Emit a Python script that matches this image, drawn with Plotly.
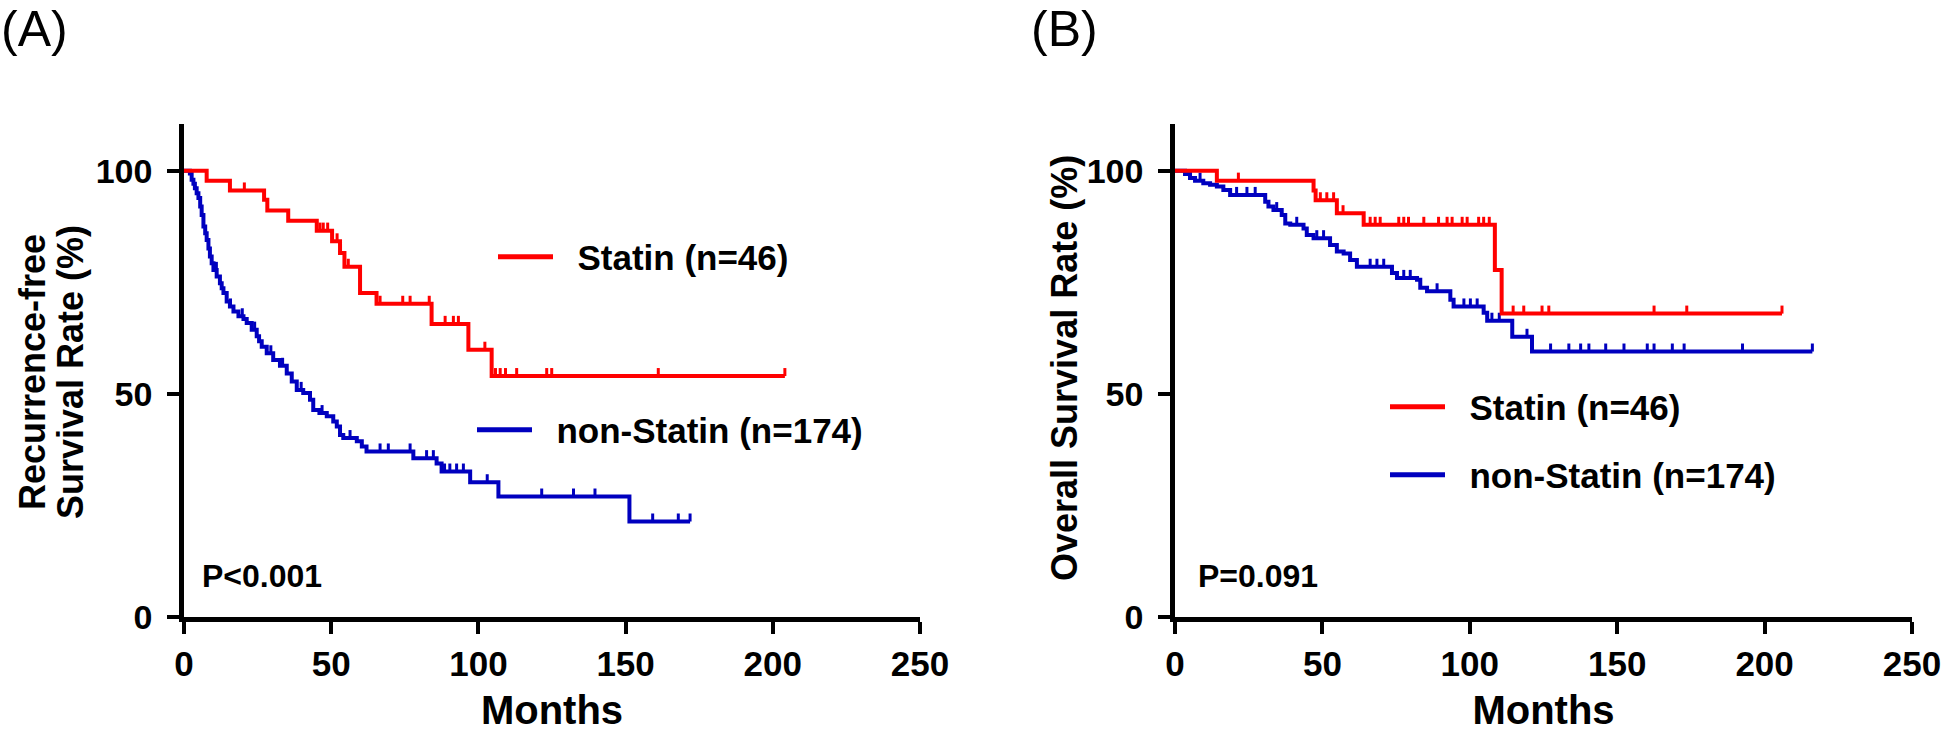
import numpy as np
import plotly.graph_objects as go

# ---------------- data ----------------
# Panel A: recurrence-free survival
rfs_statin_t = [0, 7.7, 15.6, 27.2, 28.3, 35.4, 45.1, 50.3, 53.0, 54.5, 59.8, 65.4, 84.1, 96.6, 104.5]
rfs_statin_s = [100, 97.8, 95.6, 93.5, 91.1, 88.8, 86.6, 84.2, 81.6, 78.5, 72.6, 70.2, 65.7, 59.9, 54.0]
rfs_statin_end = 204.1
rfs_statin_cens = [20.5, 46.2, 47.3, 48.8, 52.0, 55.8, 66.6, 74.3, 76.8, 83.3, 88.7, 91.5, 93.2,
                   102.2, 105.8, 107.4, 109.2, 113.0, 123.2, 124.9, 161.1, 204.1]

rfs_non_t = [0, 2.0, 2.6, 3.2, 3.7, 4.3, 4.9, 5.5, 6.0, 6.6, 7.2, 7.7, 8.3, 8.8, 9.4, 10.0, 11.1,
             12.2, 12.8, 13.4, 14.5, 15.6, 16.8, 18.5, 20.2, 21.3, 23.0, 24.7, 25.5, 26.4, 28.1,
             30.3, 32.6, 34.9, 36.6, 38.3, 40.5, 42.8, 43.9, 46.0, 48.5, 50.7, 51.9, 53.0, 54.1,
             58.7, 60.4, 62.0, 77.9, 85.8, 87.5, 97.2, 106.8, 151.3]
rfs_non_s = [100, 99.4, 98.0, 97.1, 96.1, 95.0, 93.9, 92.0, 90.1, 87.5, 86.0, 84.5, 82.6, 80.8,
             79.3, 77.8, 76.3, 74.8, 73.7, 72.6, 70.7, 69.6, 68.5, 67.4, 66.8, 65.9, 64.4, 62.9,
             61.8, 60.6, 59.1, 57.6, 56.3, 54.6, 52.8, 50.9, 50.2, 48.7, 46.4, 45.7, 45.0, 43.8,
             42.7, 40.8, 40.1, 39.4, 38.2, 37.1, 35.6, 34.4, 32.6, 30.2, 27.0, 21.4]
rfs_non_end = 171.9
rfs_non_cens = [11.0, 15.8, 19.8, 24.0, 29.5, 33.5, 39.8, 46.9, 56.4, 66.6, 69.4, 76.8, 82.4,
                84.7, 88.5, 90.3, 92.6, 94.9, 103.0, 121.5, 132.3, 139.6, 159.2, 167.9, 171.9]

# Panel B: overall survival
os_statin_t = [0, 14.2, 47.0, 47.7, 54.9, 64.0, 108.5, 110.8]
os_statin_s = [100, 97.8, 95.6, 93.4, 90.5, 87.9, 77.8, 68.0]
os_statin_end = 205.9
os_statin_cens = [21.5, 49.3, 51.5, 53.8, 57.0, 66.2, 67.9, 69.6, 75.9, 77.6, 79.2, 84.4, 89.4,
                  92.3, 94.0, 97.4, 99.1, 103.0, 104.7, 106.6, 114.7, 118.3, 124.5, 126.8,
                  162.5, 173.6, 205.9]

os_non_t = [0, 3.4, 5.1, 6.8, 9.6, 11.9, 14.2, 16.4, 18.7, 30.6, 31.7, 33.4, 36.2, 37.4, 39.1,
            43.6, 44.7, 47.0, 52.6, 54.9, 57.2, 59.4, 61.7, 73.6, 75.3, 82.1, 83.2, 85.5, 93.4,
            94.5, 104.7, 105.9, 114.4, 121.1]
os_non_s = [100, 99.3, 98.4, 97.8, 97.2, 96.9, 96.5, 95.7, 94.6, 93.1, 92.0, 91.2, 90.1, 88.2,
            87.9, 87.1, 85.6, 84.9, 83.4, 81.9, 81.5, 80.0, 78.5, 77.1, 76.0, 75.6, 73.8, 73.0,
            71.1, 69.6, 68.2, 66.4, 62.8, 59.5]
os_non_end = 216.2
os_non_cens = [8.5, 20.9, 24.4, 27.2, 34.5, 41.3, 48.1, 50.4, 66.2, 68.5, 70.8, 77.6, 79.8,
               88.9, 98.0, 100.2, 102.5, 107.5, 110.0, 119.4, 127.4, 133.6, 137.6, 140.4,
               146.1, 152.3, 160.2, 162.5, 168.7, 172.7, 192.5, 216.2]

series_names = ["Statin (n=46)", "non-Statin (n=174)"]
x_ticks = [0, 50, 100, 150, 200, 250]
y_ticks = [0, 50, 100]
x_title = "Months"
y_title_a = ["Recurrence-free", "Survival Rate (%)"]
y_title_b = "Overall Survival Rate (%)"
p_texts = ["P<0.001", "P=0.091"]
panel_labels = ["(A)", "(B)"]

# ---------------- style ----------------
RED = "#FF0000"
BLUE = "#0000BF"
FONT = "Liberation Sans"
W, H = 1946, 732
TICK_H = 1.8  # censor tick height in % units
NB = "\u00a0\u00a0"


def step_xy(t, s, end):
    return list(t) + [end], list(s) + [s[-1]]


def censor_segments(t, s, c):
    t = np.asarray(t, float)
    s = np.asarray(s, float)
    c = np.asarray(c, float)
    idx = np.searchsorted(t, c, side="right") - 1
    lv = s[idx]
    xs, ys = [], []
    for xi, yi in zip(c, lv):
        xs += [xi, xi, None]
        ys += [yi, yi + TICK_H, None]
    return xs, ys


fig = go.Figure()

panels = [
    ("x", "y", [(rfs_statin_t, rfs_statin_s, rfs_statin_end, rfs_statin_cens, RED, series_names[0], "legend"),
                (rfs_non_t, rfs_non_s, rfs_non_end, rfs_non_cens, BLUE, series_names[1], "legend2")]),
    ("x2", "y2", [(os_statin_t, os_statin_s, os_statin_end, os_statin_cens, RED, series_names[0], "legend3"),
                  (os_non_t, os_non_s, os_non_end, os_non_cens, BLUE, series_names[1], "legend4")]),
]

for xa, ya, series in panels:
    for t, s, end, cens, col, name, lg in reversed(series):
        xs, ys = step_xy(t, s, end)
        fig.add_trace(go.Scatter(
            x=xs, y=ys, xaxis=xa, yaxis=ya, mode="lines+markers",
            line=dict(color=col, width=4, shape="hv"),
            marker=dict(symbol="line-ns", size=[0] * len(xs), color=col,
                        line=dict(color=col, width=3)),
            name=NB + name, legend=lg, showlegend=True, hoverinfo="skip",
            cliponaxis=False,
        ))
        cx, cy = censor_segments(t, s, cens)
        fig.add_trace(go.Scatter(
            x=cx, y=cy, xaxis=xa, yaxis=ya, mode="lines",
            line=dict(color=col, width=3), showlegend=False, hoverinfo="skip",
            cliponaxis=False,
        ))

axis_common = dict(
    showline=True, linecolor="black", linewidth=4.5, ticks="outside", ticklen=12,
    tickwidth=4, tickcolor="black", showgrid=False, zeroline=False, automargin=False,
)
xfont = dict(family=FONT, size=35, color="black", weight="bold")
yfont = dict(family=FONT, size=34, color="black", weight="bold")
xtitle = dict(text=x_title, standoff=28,
              font=dict(family=FONT, size=40, color="black", weight="bold"))

ydom = [1 - 617 / H, 1 - 124 / H]
xdom_a = [184 / W, 920 / W]
xdom_b = [1175 / W, 1912 / W]

fig.update_layout(
    width=W, height=H, autosize=False,
    margin=dict(l=0, r=0, t=0, b=0, autoexpand=False),
    paper_bgcolor="white", plot_bgcolor="white",
    xaxis=dict(domain=xdom_a, range=[0, 250], tickvals=x_ticks, anchor="y",
               ticklabelstandoff=0, tickfont=xfont, title=xtitle, **axis_common),
    yaxis=dict(domain=ydom, range=[0, 110.5], tickvals=y_ticks, anchor="x",
               ticklabelstandoff=8, tickfont=yfont, **axis_common),
    xaxis2=dict(domain=xdom_b, range=[0, 250], tickvals=x_ticks, anchor="y2",
                ticklabelstandoff=0, tickfont=xfont, title=xtitle, **axis_common),
    yaxis2=dict(domain=ydom, range=[0, 110.5], tickvals=y_ticks, anchor="x2",
                ticklabelstandoff=8, tickfont=yfont, **axis_common),
)

leg_common = dict(
    xanchor="left", yanchor="middle", bgcolor="rgba(0,0,0,0)", borderwidth=0,
    font=dict(family=FONT, size=35, color="black", weight="bold"),
    itemwidth=55, itemsizing="constant",
)
fig.update_layout(
    legend=dict(x=493 / W, y=1 - 257 / H, **leg_common),
    legend2=dict(x=472 / W, y=1 - 430 / H, **leg_common),
    legend3=dict(x=1385 / W, y=1 - 407 / H, **leg_common),
    legend4=dict(x=1385 / W, y=1 - 475 / H, **leg_common),
)

ann_font = dict(family=FONT, size=32, color="black", weight="bold")
title_font = dict(family=FONT, size=36, color="black", weight="bold")
label_font = dict(family=FONT, size=50, color="black")
annotations = [
    dict(text=p_texts[0], x=5.5, y=9.2, xref="x", yref="y", xanchor="left", yanchor="middle",
         showarrow=False, font=ann_font),
    dict(text=p_texts[1], x=7.0, y=9.2, xref="x2", yref="y2", xanchor="left", yanchor="middle",
         showarrow=False, font=ann_font),
    dict(text=y_title_a[0], x=32 / W, y=1 - 372 / H, xref="paper", yref="paper", textangle=-90,
         xanchor="center", yanchor="middle", showarrow=False, font=title_font),
    dict(text=y_title_a[1], x=70 / W, y=1 - 372 / H, xref="paper", yref="paper", textangle=-90,
         xanchor="center", yanchor="middle", showarrow=False, font=title_font),
    dict(text=y_title_b, x=1064 / W, y=1 - 368 / H, xref="paper", yref="paper", textangle=-90,
         xanchor="center", yanchor="middle", showarrow=False, font=title_font),
    dict(text=panel_labels[0], x=0, y=1, xref="paper", yref="paper", xanchor="left",
         yanchor="top", showarrow=False, font=label_font, borderpad=0),
    dict(text=panel_labels[1], x=1030 / W, y=1, xref="paper", yref="paper", xanchor="left",
         yanchor="top", showarrow=False, font=label_font, borderpad=0),
]
fig.update_layout(annotations=annotations)

fig.write_html(
    "out.html",
    config={"displayModeBar": False},
    post_script="document.body.style.margin='0';document.body.style.overflow='hidden';",
)
